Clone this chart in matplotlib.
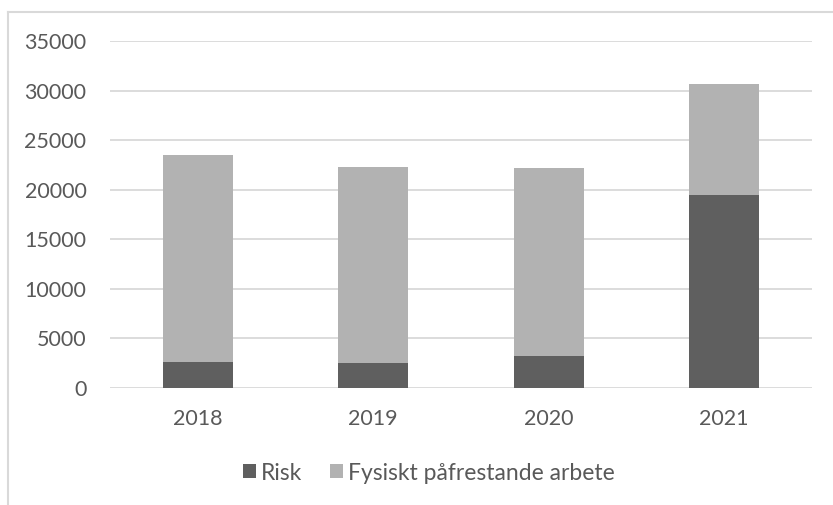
import matplotlib.pyplot as plt
from matplotlib.lines import Line2D

plt.rcParams['font.family'] = ['Lato', 'DejaVu Sans']

# データ
years = ["2018", "2019", "2020", "2021"]
risk = [2650, 2560, 3260, 19500]
fysiskt = [20810, 19720, 18890, 11200]  # 合計 - risk
labels = ["Risk", "Fysiskt påfrestande arbete"]
yticks = [0, 5000, 10000, 15000, 20000, 25000, 30000, 35000]

dark = "#5F5F5F"
light = "#B2B2B2"
txt = "#595959"
grid = "#D9D9D9"

fig = plt.figure(figsize=(8.33, 5.05), dpi=100)
ax = fig.add_axes([110 / 833, 1 - 388 / 505, 702 / 833, 347 / 505])

x = range(len(years))
ax.bar(x, risk, width=0.4, color=dark, label=labels[0], zorder=3)
ax.bar(x, fysiskt, width=0.4, bottom=risk, color=light, label=labels[1], zorder=3)

ax.set_xlim(-0.5, 3.5)
ax.set_ylim(0, 35000)
ax.set_yticks(yticks)
ax.set_yticklabels([str(v) for v in yticks])
ax.set_xticks(list(x))
ax.set_xticklabels(years)
ax.tick_params(axis='y', length=0, pad=17, labelsize=15.5, labelcolor=txt)
ax.tick_params(axis='x', length=0, pad=15, labelsize=15.5, labelcolor=txt)
ax.grid(axis='y', color=grid, linewidth=1.3, zorder=0)
for s in ax.spines.values():
    s.set_visible(False)

leg = fig.legend(loc='center', bbox_to_anchor=(429 / 833, 1 - 473 / 505), ncol=2,
                 frameon=False, fontsize=16.5, handlelength=0.55, handleheight=0.55,
                 handletextpad=0.25, columnspacing=1.2)
for t in leg.get_texts():
    t.set_color(txt)

# 外枠（上と左のみ）
fig.add_artist(Line2D([8 / 833, 1], [1 - 12 / 505, 1 - 12 / 505], color=grid, lw=1.5))
fig.add_artist(Line2D([8 / 833, 8 / 833], [0, 1 - 12 / 505], color=grid, lw=1.5))

plt.savefig("out.png", dpi=100)
